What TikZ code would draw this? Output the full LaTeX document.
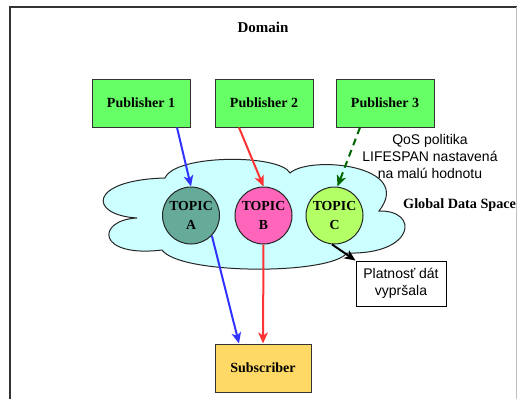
\documentclass[tikz,border=0pt]{standalone}
\usepackage{fontspec}
\setmainfont{Liberation Serif}
\setsansfont{Liberation Sans}
\usetikzlibrary{arrows.meta}
\definecolor{pubgreen}{RGB}{102,255,102}
\definecolor{subyellow}{RGB}{255,217,102}
\definecolor{cloudcyan}{RGB}{204,255,255}
\definecolor{topica}{RGB}{102,170,153}
\definecolor{topicb}{RGB}{255,102,187}
\definecolor{topicc}{RGB}{179,255,102}
\definecolor{arrowblue}{RGB}{51,51,255}
\definecolor{arrowred}{RGB}{255,51,51}
\definecolor{arrowgreen}{RGB}{0,102,0}

\begin{document}
\begin{tikzpicture}[x=1pt,y=-1pt,
  box/.style={draw=black!80, line width=1pt, minimum width=98pt, minimum height=48pt,
    inner sep=0pt, font=\bfseries\fontsize{14}{16}\selectfont},
  topic/.style={circle, draw=black!85, line width=1pt, minimum size=57pt, inner sep=0pt,
    align=center, font=\bfseries\fontsize{13.8}{19}\selectfont},
  note/.style={font=\sffamily\fontsize{14}{17}\selectfont, align=center, inner sep=0pt},
  title/.style={font=\bfseries\fontsize{14.2}{16}\selectfont, inner sep=0pt},
  flow/.style={line width=2pt, -{Stealth[length=11pt,width=9.5pt,inset=3pt]}},
]
\useasboundingbox (0,0) rectangle (517,399);
\fill[white] (0,0) rectangle (517,399);

% domain frame
\draw[black!80, line width=1.2pt] (10,410) |- (520,7);
\draw[black!25, line width=0.6pt] (516,7) -- (516,410);
\node[title, font=\bfseries\fontsize{15}{17}\selectfont] (domain) at (263,27) {Domain};

% global data space cloud
\draw[fill=cloudcyan, draw=black!85, line width=1pt]
  (137,218) .. controls (88,215) and (88,180) .. (165,178)
  .. controls (175,154) and (280,154) .. (290,173)
  .. controls (310,155) and (415,165) .. (379,211)
  .. controls (420,210) and (415,255) .. (347,253)
  .. controls (330,275) and (180,275) .. (162,250)
  .. controls (96,258) and (96,220) .. cycle;
\node[title, anchor=west] (gds) at (403,205) {Global Data Space};

% publishers
\node[box, fill=pubgreen] (p1) at (141,103) {Publisher 1};
\node[box, fill=pubgreen] (p2) at (264,103) {Publisher 2};
\node[box, fill=pubgreen] (p3) at (385,103) {Publisher 3};

% topics
\node[topic, fill=topica] (a) at (191,215.5) {TOPIC\\A};
\node[topic, fill=topicb] (b) at (263.5,215.5) {TOPIC\\B};
\node[topic, fill=topicc] (c) at (334.5,215.5) {TOPIC\\C};

% subscriber and notes
\node[box, fill=subyellow, minimum width=96pt] (s) at (263,368) {Subscriber};
\node[note, draw=black, line width=1pt, fill=white, minimum width=90pt, minimum height=45pt]
  (pl) at (401,283.5) {Platnosť dát\\vypršala};
\node[note] (qos) at (430,156) {QoS politika\\LIFESPAN nastavená\\na malú hodnotu};

% data flows
\draw[flow, arrowblue] ([xshift=36pt]p1.south) -- (a.north);
\draw[flow, arrowred] ([xshift=-25pt]p2.south) -- (b.north);
\draw[flow, arrowgreen, dash pattern=on 7pt off 5pt] ([xshift=-25pt]p3.south) -- ([xshift=3pt]c.north);
\draw[flow, arrowblue] (a.-44) -- ([xshift=-24pt]s.north);
\draw[flow, arrowred] (b.south) -- (s.north);
\draw[flow, black] (c.-95) -- (pl.north west);
\end{tikzpicture}
\end{document}
